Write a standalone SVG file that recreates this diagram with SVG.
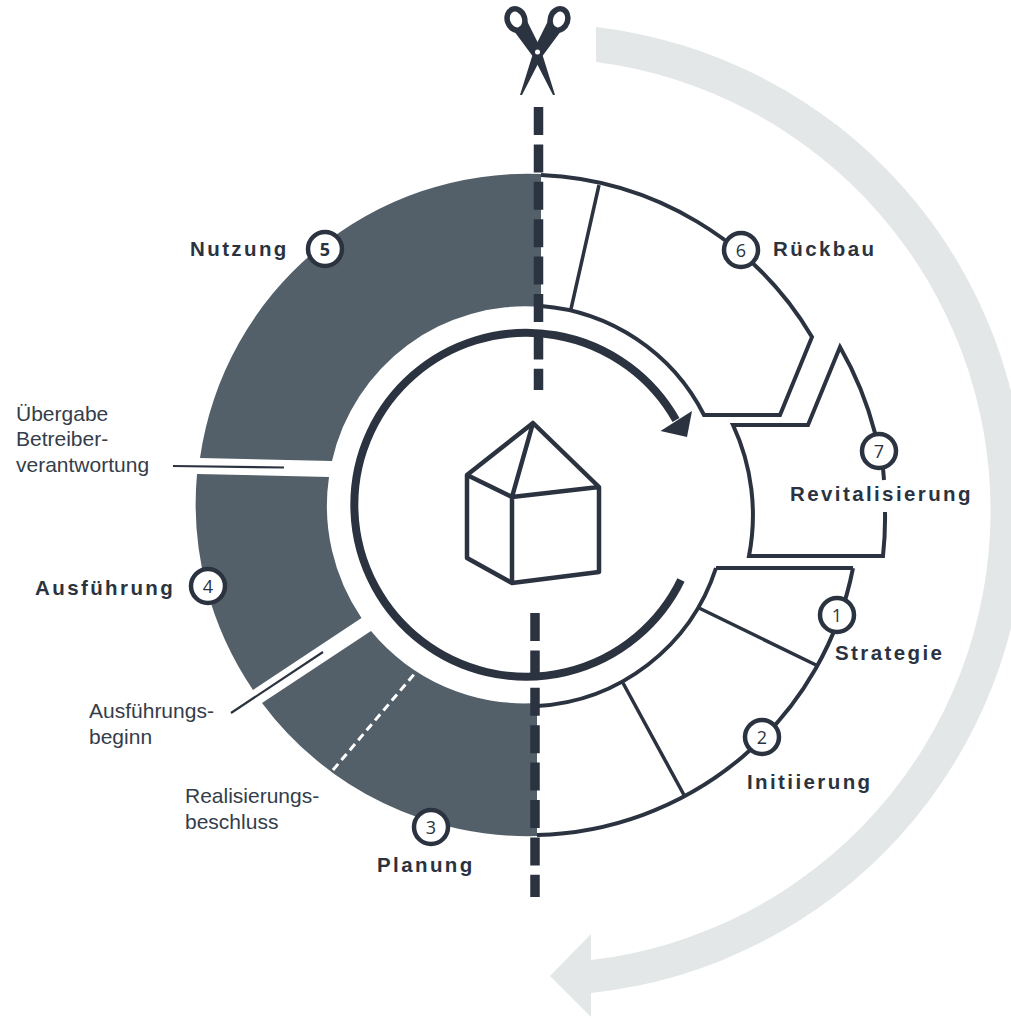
<svg xmlns="http://www.w3.org/2000/svg" width="1011" height="1018" viewBox="0 0 1011 1018">
<style>
.seg{fill:#536069;stroke:none}
.out{fill:none;stroke:#2b3340;stroke-width:4;stroke-linejoin:miter}
.div{fill:none;stroke:#2b3340;stroke-width:3.500}
.badge{fill:#fff;stroke:#2b3340;stroke-width:4.500}
.num{font-family:"Open Sans","Noto Sans",sans-serif;font-size:18px;fill:#2b3340;text-anchor:middle}
.lab{font-family:"Liberation Sans",Arial,sans-serif;font-weight:700;font-size:20.500px;letter-spacing:2.400px;fill:#2b3340}
.note{font-family:"Liberation Sans",Arial,sans-serif;font-size:21px;fill:#343d4a}
.dash{fill:none;stroke:#2b3340;stroke-width:9.500;stroke-dasharray:28 9.400}
.dark{fill:#2b3340}
</style>
<g id="cycle-arrow"><path fill="#e4e7e7" d="M596,27 A486,486 0 0 1 591,993 V1017 L550,976 L591,934 V960 A452.400,452.400 0 0 0 596,62 Z"/></g>
<g id="phase-5-nutzung">
<path class="seg" d="M541,174 A331,331 0 0 0 200,458 L332,461 A198,198 0 0 1 541,307 Z"/>
<circle class="badge" cx="325" cy="249" r="17"/><text class="num" x="325" y="255.500" style="font-weight:700">5</text>
<text class="lab" x="190" y="256">Nutzung</text>
</g>
<g id="phase-4-ausfuehrung">
<path class="seg" d="M197,474 L329,477 A199,199 0 0 0 361.500,618 L253,690 A331,331 0 0 1 197,474 Z"/>
<circle class="badge" cx="208" cy="586" r="17"/><text class="num" x="208" y="592.500">4</text>
<text class="lab" x="35" y="595">Ausführung</text>
</g>
<g id="phase-3-planung">
<path class="seg" d="M371,631 L262,703 A331,331 0 0 0 537,836 V703 A199,199 0 0 1 371,631 Z"/>
<path fill="none" stroke="#fff" stroke-width="3" stroke-dasharray="8 5" d="M333,770 L416,672"/>
<circle class="badge" cx="431" cy="827" r="17"/><text class="num" x="431" y="833.500">3</text>
<text class="lab" x="377" y="872">Planung</text>
</g>
<g id="phase-1-2">
<path class="out" d="M716,568 H853 M853,568 A330,330 0 0 1 537,835 M537,706 A200,200 0 0 0 716,568"/>
<path class="div" d="M699,608 L816,665 M623,683 L684,795"/>
</g>
<g id="phase-1-strategie">
<circle class="badge" cx="837" cy="615" r="17"/><text class="num" x="837" y="621.500">1</text>
<text class="lab" x="835" y="660">Strategie</text>
</g>
<g id="phase-2-initiierung">
<circle class="badge" cx="762" cy="737" r="17"/><text class="num" x="762" y="743.500">2</text>
<text class="lab" x="747" y="789">Initiierung</text>
</g>
<g id="phase-6-rueckbau">
<path class="out" d="M541,175 A331,331 0 0 1 812,337 L780,415 H704 A200,200 0 0 0 541,306"/>
<path class="div" d="M599,185 L571,309"/>
<circle class="badge" cx="741" cy="250" r="17"/><text class="num" x="741" y="256.500">6</text>
<text class="lab" x="773" y="256">Rückbau</text>
</g>
<g id="phase-7-revitalisierung">
<path class="out" d="M885,512 A344,344 0 0 1 883,556 H749 A214,214 0 0 0 733,425 H808 L840,347 A344,344 0 0 1 875,433 M883,468 L884,480"/>
<circle class="badge" cx="879" cy="451" r="17"/><text class="num" x="879" y="457.500">7</text>
<text class="lab" x="790" y="501">Revitalisierung</text>
</g>
<g id="house">
<path fill="none" stroke="#2b3340" stroke-width="4.500" stroke-linejoin="round" d="M533,423 L467,475 V558 L512,583 L599,572 V487 L533,423 L512,497 L467,475 M512,497 V583 M512,497 L599,487"/>
</g>
<g id="scissors">
<g fill="none" stroke="#2b3340" stroke-width="5.500"><ellipse cx="516" cy="19.500" rx="8.700" ry="10.800" transform="rotate(-18 516 19.500)"/><ellipse cx="559" cy="19.500" rx="8.700" ry="10.800" transform="rotate(18 559 19.500)"/></g>
<path class="dark" d="M514,31 L527,21 L540,47 L555,95 H553 L534,58 Z"/>
<path class="dark" d="M561,31 L548,21 L535,47 L520,95 H522 L541,58 Z"/>
<circle cx="537.500" cy="52" r="2.500" fill="#fff"/>
</g>
<g id="connectors">
<path class="dash" d="M538.500,107 V390"/>
<path class="dash" d="M535,613 V897"/>
<path fill="none" stroke="#2b3340" stroke-width="8" d="M681,580 A172,172 0 1 1 676,420"/>
<path class="dark" d="M692,411 L660.500,431 L687,437 Z"/>
<path fill="none" stroke="#2b3340" stroke-width="2.200" d="M173,466 L284,467.500 M231,713 L323,652"/>
</g>
<g id="notes">
<text class="note" x="16" y="421">Übergabe</text>
<text class="note" x="16" y="446">Betreiber-</text>
<text class="note" x="16" y="472">verantwortung</text>
<text class="note" x="89" y="718">Ausführungs-</text>
<text class="note" x="89" y="744">beginn</text>
<text class="note" x="185" y="803">Realisierungs-</text>
<text class="note" x="185" y="829">beschluss</text>
</g>
</svg>
